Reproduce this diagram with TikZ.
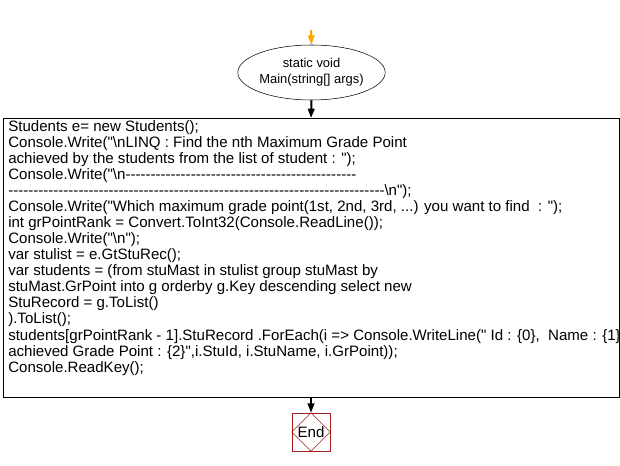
\documentclass[tikz,border=0pt]{standalone}
\usepackage{fontspec}
\newfontfamily\ar{Liberation Sans}
\usetikzlibrary{shapes.geometric,arrows.meta}
\definecolor{endred}{RGB}{160,30,30}
\definecolor{startor}{RGB}{255,165,0}
\begin{document}
\begin{tikzpicture}[x=0.75pt,y=-0.75pt,
  flow/.style={-{Triangle[length=7pt,width=5pt]},line width=1.5pt},
  txt/.style={font=\ar\fontsize{9.7}{12.05}\selectfont},
  code/.style={font=\ar\fontsize{11.3}{12.05}\selectfont}]
\useasboundingbox (0,0) rectangle (620,466);
\coordinate (st) at (311,30);
\node[ellipse,draw,minimum width=147*0.75pt,minimum height=55*0.75pt,txt,align=center,inner sep=0pt] (main) at (311.5,72.5) {static void\\Main(string[] args)};
\draw[flow,draw=startor,fill=startor] (st) -- (main.north);
\draw (3,118) rectangle (619,397);
\coordinate (bt) at (311,118);
\node[code,anchor=north west,align=left,inner sep=0pt] (codebox) at (8,120) {Students e= new Students();\\
Console.Write("\textbackslash nLINQ : Find the nth Maximum Grade Point\\
achieved by the students from the list of student : ");\\
Console.Write("\textbackslash n----------------------------------------------\\
---------------------------------------------------------------------------\textbackslash n");\\
Console.Write("Which maximum grade point(1st, 2nd, 3rd, ...) you want to find\ \ : ");\\
int grPointRank = Convert.ToInt32(Console.ReadLine());\\
Console.Write("\textbackslash n");\\
var stulist = e.GtStuRec();\\
var students = (from stuMast in stulist group stuMast by\\
stuMast.GrPoint into g orderby g.Key descending select new\\
StuRecord = g.ToList()\\
).ToList();\\
students[grPointRank - 1].StuRecord .ForEach(i => Console.WriteLine(" Id : \{0\},\ \ Name : \{1\},\\
achieved Grade Point : \{2\}",i.StuId, i.StuName, i.GrPoint));\\
Console.ReadKey();};
\draw[flow] (main.south) -- (bt);
\node[draw=endred,minimum size=38*0.75pt,inner sep=0pt,code] (end) at (311,432) {End};
\draw[endred,line width=0.4pt] (end.north) -- (end.east) -- (end.south) -- (end.west) -- cycle;
\coordinate (bb) at (311,397);
\draw[flow] (bb) -- (end.north);
\end{tikzpicture}
\end{document}
